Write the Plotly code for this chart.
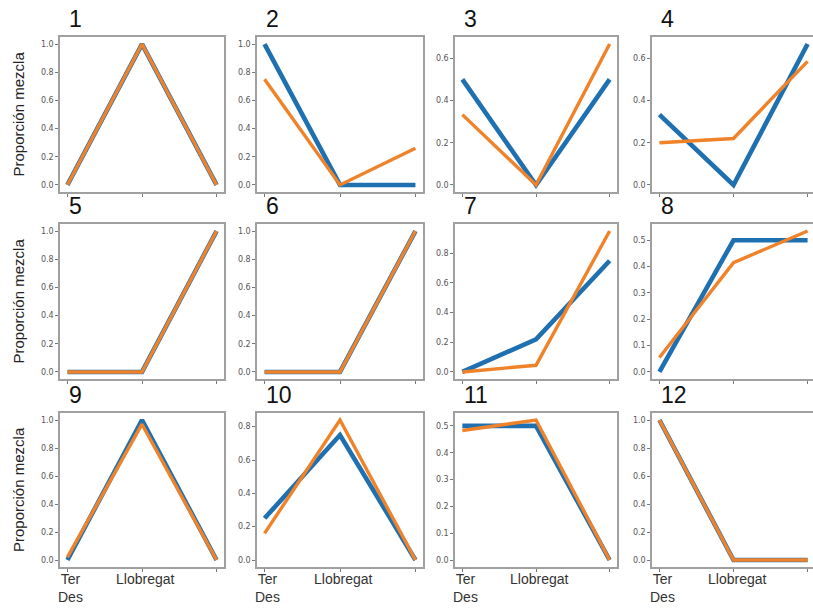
import plotly.graph_objects as go

categories = [0, 1, 2]
tick_labels = ["Ter<br>Des", "Llobregat", ""]
panel_titles = ["1", "2", "3", "4", "5", "6", "7", "8", "9", "10", "11", "12"]

blue_series = [
    [0.0, 1.0, 0.0],
    [1.0, 0.0, 0.0],
    [0.5, 0.0, 0.5],
    [0.333, 0.0, 0.667],
    [0.0, 0.0, 1.0],
    [0.0, 0.0, 1.0],
    [0.0, 0.22, 0.75],
    [0.0, 0.5, 0.5],
    [0.0, 1.0, 0.0],
    [0.25, 0.75, 0.0],
    [0.5, 0.5, 0.0],
    [1.0, 0.0, 0.0],
]
orange_series = [
    [0.0, 1.0, 0.0],
    [0.75, 0.0, 0.26],
    [0.333, 0.0, 0.667],
    [0.2, 0.22, 0.585],
    [0.0, 0.0, 1.0],
    [0.0, 0.0, 1.0],
    [0.0, 0.045, 0.95],
    [0.055, 0.415, 0.535],
    [0.02, 0.97, 0.0],
    [0.16, 0.84, 0.0],
    [0.483, 0.522, 0.0],
    [1.0, 0.0, 0.0],
]
y_tick_steps = [0.2, 0.2, 0.2, 0.2, 0.2, 0.2, 0.2, 0.1, 0.2, 0.2, 0.1, 0.2]
y_title = "Proporción mezcla"

W, H = 813, 608
col_px = [(60, 224), (257, 423), (455, 617), (652, 813)]
row_px = [(37, 192), (224, 379), (413, 567)]

BLUE = "#1f70b0"
ORANGE = "#f0822a"
FRAME = "#a0a0a0"

fig = go.Figure()
annotations = []

for i in range(12):
    r, c = divmod(i, 4)
    n = i + 1
    xa = "x" if n == 1 else f"x{n}"
    ya = "y" if n == 1 else f"y{n}"
    xkey = "xaxis" if n == 1 else f"xaxis{n}"
    ykey = "yaxis" if n == 1 else f"yaxis{n}"

    fig.add_trace(go.Scatter(x=categories, y=blue_series[i], mode="lines",
                             line=dict(color=BLUE, width=4.6), xaxis=xa, yaxis=ya,
                             showlegend=False, hoverinfo="skip"))
    fig.add_trace(go.Scatter(x=categories, y=orange_series[i], mode="lines",
                             line=dict(color=ORANGE, width=3.4), xaxis=xa, yaxis=ya,
                             showlegend=False, hoverinfo="skip"))

    allv = blue_series[i] + orange_series[i]
    lo, hi = min(allv), max(allv)
    pad = (hi - lo) * 0.05
    step = y_tick_steps[i]
    nt = int(round(hi / step + 1e-9))
    tv = [round(k * step, 2) for k in range(nt + 1)]
    tt = [f"{v:.1f}" for v in tv]

    x0, x1 = col_px[c]
    y0, y1 = row_px[r]
    xrng = [-0.1, 2.1] if c < 3 else [-0.1, 2.073]

    fig.layout[xkey] = dict(
        domain=[x0 / W, x1 / W], anchor=ya, range=xrng,
        tickvals=categories, showticklabels=False,
        ticks="outside", ticklen=3, tickcolor="#777",
        showline=True, linecolor=FRAME, linewidth=1.5, mirror=True,
        showgrid=False, zeroline=False,
    )
    fig.layout[ykey] = dict(
        domain=[1 - y1 / H, 1 - y0 / H], anchor=xa, range=[lo - pad, hi + pad],
        tickvals=tv, ticktext=tt,
        ticks="outside", ticklen=3, tickcolor="#777",
        showline=True, linecolor=FRAME, linewidth=1.5, mirror=(c < 3),
        showgrid=False, zeroline=False,
        tickfont=dict(family="DejaVu Sans", size=8, color="#555"),
    )

    annotations.append(dict(
        text=panel_titles[i], xref="paper", yref="paper",
        x=(x0 + 7) / W, y=1 - (y0 - 3) / H, xanchor="left", yanchor="bottom",
        showarrow=False, font=dict(family="Liberation Sans, Arial", size=23, color="#111"),
    ))

    if r == 2:
        for xv, lab in zip(categories, tick_labels):
            if not lab:
                continue
            annotations.append(dict(
                text=lab, xref=xa, yref="paper", x=xv, y=1 - 569 / H,
                xanchor="center", yanchor="top", xshift=3, showarrow=False,
                font=dict(family="Liberation Sans, Arial", size=14, color="#333"),
            ))

for r in range(3):
    y0, y1 = row_px[r]
    annotations.append(dict(
        text=y_title, xref="paper", yref="paper",
        x=18 / W, y=1 - ((y0 + y1) / 2) / H, xanchor="center", yanchor="middle",
        textangle=-90, showarrow=False,
        font=dict(family="Liberation Sans, Arial", size=15, color="#222"),
    ))

fig.update_layout(
    width=W, height=H,
    margin=dict(l=0, r=0, t=0, b=0),
    paper_bgcolor="white", plot_bgcolor="white",
    annotations=annotations,
)

fig.write_html("out.html", config={"displayModeBar": False},
               post_script="document.body.style.margin='0';document.body.style.overflow='hidden';")
